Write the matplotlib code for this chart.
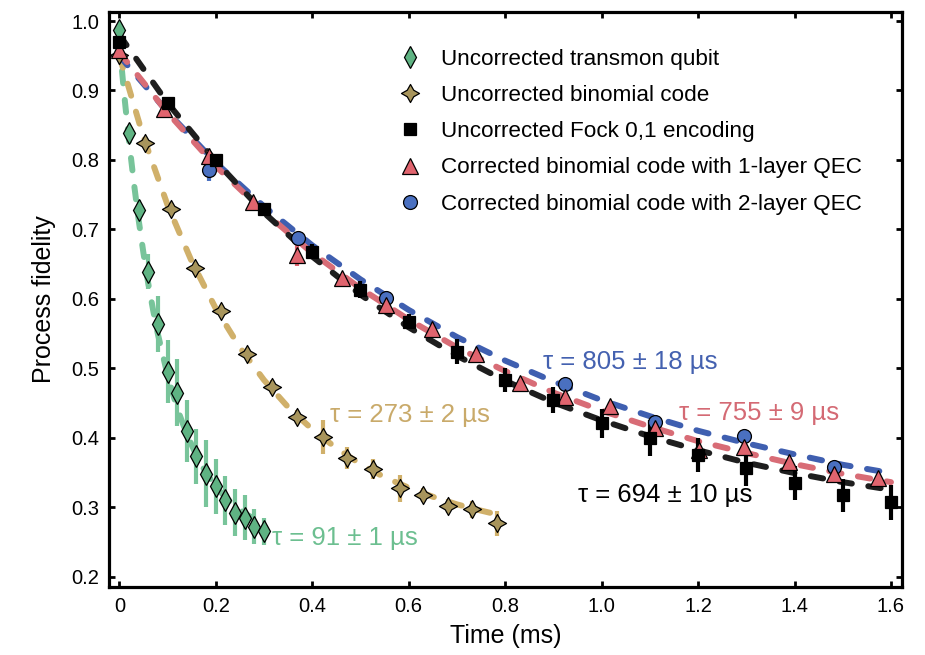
import matplotlib
matplotlib.use('Agg')
import matplotlib.pyplot as plt
from matplotlib.path import Path
from matplotlib.lines import Line2D

plt.rcParams['font.family'] = ['Liberation Sans', 'DejaVu Sans']
plt.rcParams['lines.scale_dashes'] = False

# ---------------- data ----------------
t_transmon = [0.00, 0.02, 0.04, 0.06, 0.08, 0.10, 0.12, 0.14, 0.16, 0.18, 0.20, 0.22, 0.24, 0.26, 0.28, 0.30]
F_transmon = [0.987, 0.839, 0.728, 0.639, 0.564, 0.495, 0.465, 0.410, 0.373, 0.348, 0.330, 0.310, 0.292, 0.285, 0.272, 0.265]
e_transmon = [0.004, 0.008, 0.015, 0.025, 0.040, 0.045, 0.048, 0.045, 0.040, 0.048, 0.040, 0.035, 0.034, 0.032, 0.025, 0.020]

t_binom = [0.000, 0.053, 0.107, 0.157, 0.210, 0.264, 0.316, 0.368, 0.422, 0.472, 0.527, 0.581, 0.629, 0.682, 0.731, 0.783]
F_binom = [0.951, 0.824, 0.730, 0.644, 0.582, 0.520, 0.473, 0.430, 0.401, 0.371, 0.355, 0.327, 0.318, 0.302, 0.297, 0.277]
e_binom = [0.003, 0.004, 0.004, 0.005, 0.006, 0.008, 0.010, 0.010, 0.024, 0.016, 0.015, 0.020, 0.010, 0.010, 0.012, 0.018]

t_fock = [0.0, 0.1, 0.2, 0.3, 0.4, 0.5, 0.6, 0.7, 0.8, 0.9, 1.0, 1.1, 1.2, 1.3, 1.4, 1.5, 1.6]
F_fock = [0.970, 0.882, 0.800, 0.730, 0.668, 0.613, 0.567, 0.524, 0.483, 0.454, 0.421, 0.399, 0.375, 0.356, 0.335, 0.317, 0.307]
e_fock = [0.004, 0.005, 0.006, 0.006, 0.011, 0.012, 0.011, 0.018, 0.017, 0.019, 0.021, 0.026, 0.024, 0.025, 0.024, 0.024, 0.025]

t_qec1 = [0.000, 0.092, 0.185, 0.278, 0.369, 0.461, 0.554, 0.648, 0.740, 0.831, 0.924, 1.018, 1.110, 1.202, 1.295, 1.388, 1.481, 1.574]
F_qec1 = [0.958, 0.873, 0.805, 0.739, 0.663, 0.630, 0.591, 0.556, 0.521, 0.479, 0.458, 0.446, 0.414, 0.382, 0.386, 0.365, 0.348, 0.342]
e_qec1 = [0.004, 0.005, 0.008, 0.005, 0.016, 0.006, 0.006, 0.006, 0.006, 0.006, 0.006, 0.006, 0.008, 0.014, 0.012, 0.006, 0.006, 0.006]

t_qec2 = [0.186, 0.370, 0.554, 0.924, 1.110, 1.295, 1.481]
F_qec2 = [0.785, 0.688, 0.601, 0.477, 0.423, 0.403, 0.358]
e_qec2 = [0.015, 0.006, 0.005, 0.006, 0.006, 0.006, 0.005]

# fitted curves
tfit_transmon = [0.00, 0.01, 0.02, 0.03, 0.04, 0.05, 0.06, 0.07, 0.08, 0.10, 0.12, 0.14, 0.16, 0.18, 0.20, 0.22, 0.24, 0.26, 0.28, 0.30]
Ffit_transmon = [0.970, 0.895, 0.828, 0.768, 0.714, 0.666, 0.622, 0.584, 0.549, 0.490, 0.442, 0.405, 0.374, 0.349, 0.330, 0.314, 0.302, 0.291, 0.283, 0.277]
tfit_binom = [0.00, 0.05, 0.10, 0.15, 0.20, 0.25, 0.30, 0.35, 0.40, 0.45, 0.50, 0.55, 0.60, 0.65, 0.70, 0.75, 0.78]
Ffit_binom = [0.950, 0.833, 0.735, 0.654, 0.586, 0.530, 0.483, 0.444, 0.412, 0.385, 0.362, 0.343, 0.328, 0.315, 0.304, 0.295, 0.290]
tfit_long = [0.0, 0.1, 0.2, 0.3, 0.4, 0.5, 0.6, 0.7, 0.8, 0.9, 1.0, 1.1, 1.2, 1.3, 1.4, 1.5, 1.6]
Ffit_fock = [0.980, 0.882, 0.798, 0.724, 0.661, 0.606, 0.559, 0.518, 0.482, 0.451, 0.425, 0.402, 0.382, 0.364, 0.349, 0.336, 0.325]
Ffit_qec1 = [0.955, 0.868, 0.791, 0.725, 0.666, 0.615, 0.570, 0.530, 0.496, 0.465, 0.439, 0.416, 0.395, 0.378, 0.362, 0.348, 0.336]
Ffit_qec2 = [0.950, 0.869, 0.796, 0.733, 0.677, 0.628, 0.584, 0.545, 0.511, 0.481, 0.454, 0.431, 0.410, 0.392, 0.376, 0.361, 0.349]

labels = ["Uncorrected transmon qubit", "Uncorrected binomial code",
          "Uncorrected Fock 0,1 encoding", "Corrected binomial code with 1-layer QEC",
          "Corrected binomial code with 2-layer QEC"]
tau_texts = ["\u03c4 = 91 \u00b1 1 \u00b5s", "\u03c4 = 273 \u00b1 2 \u00b5s", "\u03c4 = 694 \u00b1 10 \u00b5s",
             "\u03c4 = 755 \u00b1 9 \u00b5s", "\u03c4 = 805 \u00b1 18 \u00b5s"]
tau_pos = [(0.317, 0.255), (0.437, 0.432), (0.952, 0.318), (1.160, 0.435), (0.879, 0.509)]

# ---------------- style ----------------
c_green_m, c_green_l = '#5fb383', '#78c49a'
c_tan_m, c_tan_l = '#a8955c', '#d0b06a'
c_black_m, c_black_l = '#000000', '#1e1e1e'
c_red_m, c_red_l = '#e0646e', '#d86c76'
c_blue_m, c_blue_l = '#4a70c0', '#3f5fb0'
text_cols = ['#6cbf90', '#c9aa6a', '#000000', '#d46a74', '#4461b0']

r = 0.36
star = Path([(0, 1), (r, r), (1, 0), (r, -r), (0, -1), (-r, -r), (-1, 0), (-r, r), (0, 1)],
            [Path.MOVETO] + [Path.LINETO] * 7 + [Path.CLOSEPOLY])

fig = plt.figure(figsize=(9.25, 6.55), dpi=100)
ax = fig.add_axes([109 / 925, 68 / 655, 793 / 925, 575 / 655])

dash = dict(linestyle=(0, (9, 12)), linewidth=4.3, dash_capstyle='round', zorder=2)
ax.plot(tfit_transmon, Ffit_transmon, color=c_green_l, **dash)
ax.plot(tfit_binom, Ffit_binom, color=c_tan_l, **dash)
ax.plot(tfit_long, Ffit_qec2, color=c_blue_l, **dash)
ax.plot(tfit_long, Ffit_qec1, color=c_red_l, **dash)
ax.plot(tfit_long, Ffit_fock, color=c_black_l, **dash)

eb = dict(fmt='none', elinewidth=3.0, capsize=0, zorder=3)
ax.errorbar(t_transmon, F_transmon, yerr=e_transmon, ecolor=c_green_l, **eb)
ax.errorbar(t_binom, F_binom, yerr=e_binom, ecolor=c_tan_l, **eb)
ax.errorbar(t_qec2, F_qec2, yerr=e_qec2, ecolor=c_blue_m, **eb)
ax.errorbar(t_qec1, F_qec1, yerr=e_qec1, ecolor=c_red_m, **eb)
ax.errorbar(t_fock, F_fock, yerr=e_fock, ecolor=c_black_m, **eb)

ms = {'d': 11, 'star': 13, 's': 8.5, '^': 11, 'o': 10}
mk = dict(linestyle='none', markeredgecolor='black', markeredgewidth=0.9, zorder=4)
ax.plot(t_transmon, F_transmon, marker='d', markersize=ms['d'], markerfacecolor=c_green_m, **mk)
ax.plot(t_binom, F_binom, marker=star, markersize=ms['star'], markerfacecolor=c_tan_m, **mk)
ax.plot(t_qec2, F_qec2, marker='o', markersize=ms['o'], markerfacecolor=c_blue_m, **mk)
ax.plot(t_qec1, F_qec1, marker='^', markersize=ms['^'], markerfacecolor=c_red_m, **mk)
ax.plot(t_fock, F_fock, marker='s', markersize=ms['s'], markerfacecolor=c_black_m, **mk)

for txt, (x, y), col in zip(tau_texts, tau_pos, text_cols):
    ax.text(x, y, txt, color=col, fontsize=18.5, ha='left', va='center', zorder=5)

hk = dict(linestyle='none', markeredgecolor='black', markeredgewidth=0.9)
handles = [
    Line2D([], [], marker='d', markersize=ms['d'], markerfacecolor=c_green_m, **hk),
    Line2D([], [], marker=star, markersize=ms['star'], markerfacecolor=c_tan_m, **hk),
    Line2D([], [], marker='s', markersize=ms['s'], markerfacecolor='black', **hk),
    Line2D([], [], marker='^', markersize=ms['^'], markerfacecolor=c_red_m, **hk),
    Line2D([], [], marker='o', markersize=ms['o'], markerfacecolor=c_blue_m, **hk),
]
ax.legend(handles, labels, loc='upper left', bbox_to_anchor=(0.354, 0.952), frameon=False,
          fontsize=16.2, handlelength=1.0, handletextpad=0.9, labelspacing=0.68, borderaxespad=0)

ax.set_xlim(-0.0214, 1.6229)
ax.set_ylim(0.185, 1.013)
ax.set_xticks([0, 0.2, 0.4, 0.6, 0.8, 1.0, 1.2, 1.4, 1.6])
ax.set_xticklabels(['0', '0.2', '0.4', '0.6', '0.8', '1.0', '1.2', '1.4', '1.6'])
ax.set_yticks([0.2, 0.3, 0.4, 0.5, 0.6, 0.7, 0.8, 0.9, 1.0])
ax.set_yticklabels(['0.2', '0.3', '0.4', '0.5', '0.6', '0.7', '0.8', '0.9', '1.0'])
ax.tick_params(direction='in', top=True, right=True, length=4, width=2, labelsize=14.5, pad=7)
for s in ax.spines.values():
    s.set_linewidth(2.3)
ax.set_xlabel('Time (ms)', fontsize=18, labelpad=6)
ax.set_ylabel('Process fidelity', fontsize=18, labelpad=11)

fig.savefig('out.png', dpi=100)
